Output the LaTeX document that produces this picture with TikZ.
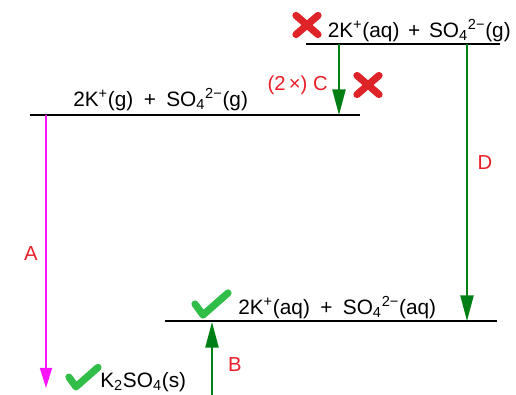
\documentclass[tikz,border=0pt]{standalone}
\usepackage{fontspec}
\setmainfont{Liberation Sans}
\usetikzlibrary{arrows.meta}
\definecolor{arrgreen}{RGB}{0,128,20}
\definecolor{tickgreen}{RGB}{48,190,72}
\definecolor{crossred}{RGB}{222,36,40}
\definecolor{lblred}{RGB}{235,30,40}
\definecolor{pinkarr}{RGB}{250,20,250}
\newcommand{\ionsize}{\fontsize{14.8}{17}\selectfont}
\tikzset{
  level/.style={line width=1.4pt},
  species/.style={anchor=base west, inner sep=0pt, font=\ionsize},
  lbl/.style={text=lblred, inner sep=0pt, font=\fontsize{14.4}{17}\selectfont},
  greenarr/.style={-{Triangle[length=0.64cm,width=0.33cm]}, draw=arrgreen, line width=1.2pt},
  pinkline/.style={-{Triangle[length=0.5cm,width=0.3cm]}, draw=pinkarr, line width=1.2pt},
  crossmark/.pic={\draw[crossred, line width=0.18cm, line cap=round]
    (-11,-9.5) -- (11,9.5) (-11,9.5) -- (11,-9.5);},
  tickmark/.pic={\draw[tickgreen, line width=0.18cm, line cap=round, line join=round]
    (-16,-1) -- (-8,10) -- (17,-12);}
}

\begin{document}
\begin{tikzpicture}[x=0.025cm, y=-0.025cm]
  \useasboundingbox (0,0) rectangle (516,395);

  % energy levels
  \coordinate (topL) at (306,44);  \coordinate (topR) at (500,44);
  \coordinate (gasL) at (30,115);  \coordinate (gasR) at (360,115);
  \coordinate (aqL) at (165,321);  \coordinate (aqR) at (497,321);
  \draw[level] (topL) -- (topR);
  \draw[level] (gasL) -- (gasR);
  \draw[level] (aqL) -- (aqR);

  \node[species, anchor=base east] (top) at (511,37) {2K\textsuperscript{+}(aq)\hspace{0.42em}+\hspace{0.42em}SO\textsubscript{4}\textsuperscript{2−}(g)};
  \node[species] (gas) at (73,106) {2K\textsuperscript{+}(g)\enspace+\enspace SO\textsubscript{4}\textsuperscript{2−}(g)};
  \node[species] (aq) at (238,314) {2K\textsuperscript{+}(aq)\enspace+\enspace SO\textsubscript{4}\textsuperscript{2−}(aq)};
  \node[species] (solid) at (100,387) {K\textsubscript{2}SO\textsubscript{4}(s)};

  % arrows
  \coordinate (cTop) at (339,44);  \coordinate (cBot) at (339,115);
  \coordinate (dTop) at (467,44);  \coordinate (dBot) at (467,321);
  \coordinate (aTop) at (46,115);  \coordinate (aBot) at (46,388);
  \coordinate (bBot) at (212,395); \coordinate (bTop) at (212,322);
  \draw[greenarr] (cTop) -- (cBot);
  \draw[greenarr] (dTop) -- (dBot);
  \draw[pinkline] (aTop) -- (aBot);
  \draw[greenarr] (bBot) -- (bTop);

  \node[lbl, anchor=base east] (labC) at (328,90) {(2\,×) C};
  \node[lbl] (labD) at (485,163) {D};
  \node[lbl] (labA) at (31,254) {A};
  \node[lbl] (labB) at (235,365) {B};

  % marks
  \pic at (307,25) {crossmark};
  \pic at (368,85) {crossmark};
  \pic at (211,305) {tickmark};
  \pic[scale=0.88] at (83,378) {tickmark};
\end{tikzpicture}
\end{document}
